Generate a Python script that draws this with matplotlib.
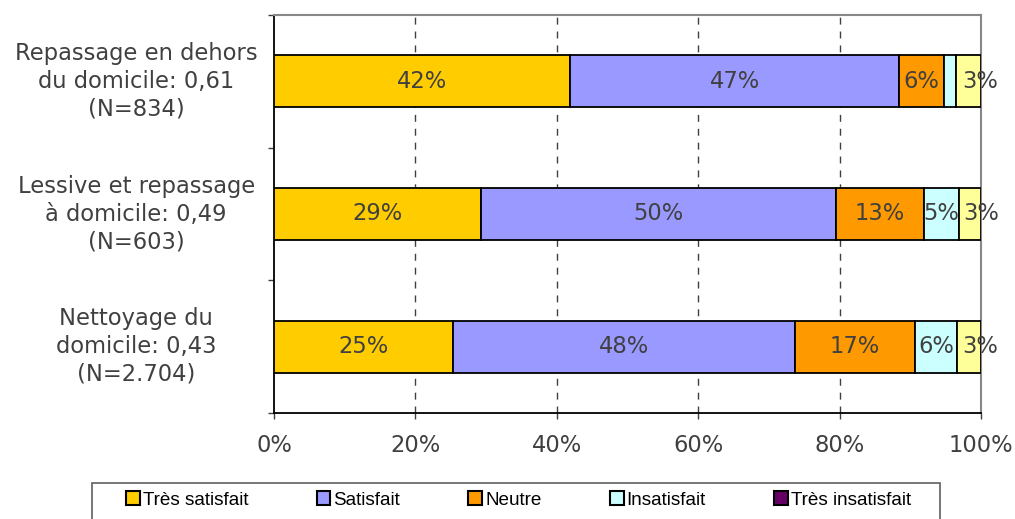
import matplotlib.pyplot as plt
import numpy as np
from matplotlib.patches import Patch, Rectangle

categories = ['Repassage en dehors\ndu domicile: 0,61\n(N=834)',
              'Lessive et repassage\nà domicile: 0,49\n(N=603)',
              'Nettoyage du\ndomicile: 0,43\n(N=2.704)']
series = ['Très satisfait', 'Satisfait', 'Neutre', 'Insatisfait', 'Très insatisfait']
# share of answers (%), one list per series, in category order
tres_satisfait = [41.9, 29.3, 25.3]
satisfait = [46.5, 50.2, 48.4]
neutre = [6.4, 12.4, 17.0]
insatisfait = [1.7, 5.0, 5.9]
tres_insatisfait = [3.5, 3.1, 3.4]
labels = [['42%', '29%', '25%'],
          ['47%', '50%', '48%'],
          ['6%', '13%', '17%'],
          ['', '5%', '6%'],
          ['3%', '3%', '3%']]

values = [tres_satisfait, satisfait, neutre, insatisfait, tres_insatisfait]
bar_colors = ['#FFCC00', '#9999FF', '#FF9900', '#CCFFFF', '#FFFF99']
legend_colors = ['#FFCC00', '#9999FF', '#FF9900', '#CCFFFF', '#660066']
txt = '#404040'
fs = 16.3

plt.rcParams['font.family'] = 'DejaVu Sans'
fig = plt.figure(figsize=(10.15, 5.19), dpi=100)
ax = fig.add_axes([274/1015, 1-413/519, 707/1015, 398/519])

y = np.array([2, 1, 0])
left = np.zeros(3)
for i, (vals, col, labs) in enumerate(zip(values, bar_colors, labels)):
    vals = np.array(vals)
    ax.barh(y, vals, left=left, height=0.39, color=col, edgecolor='black', linewidth=1.3, zorder=3)
    shift = 1.6 if i == len(values) - 1 else 0  # last labels sit a bit to the right
    for yi, l, v, lab in zip(y, left, vals, labs):
        if lab:
            ax.text(l + v/2 + shift, yi, lab, ha='center', va='center', fontsize=fs,
                    color=txt, zorder=4, clip_on=False)
    left += vals

ax.set_xlim(0, 100)
ax.set_ylim(-0.5, 2.5)
ax.set_xticks(np.arange(0, 101, 20))
ax.set_xticklabels([f'{v}%' for v in range(0, 101, 20)], fontsize=fs, color=txt)
ax.set_yticks([-0.5, 0.5, 1.5, 2.5])
ax.set_yticklabels([])
for yi, c in zip(y, categories):
    ax.text(-19.5, yi, c, ha='center', va='center', fontsize=fs, color=txt,
            linespacing=1.26, clip_on=False)
ax.tick_params(axis='both', direction='out', length=4, width=1, colors='#404040', labelcolor=txt)
ax.tick_params(axis='x', pad=11)
for v in [20, 40, 60, 80]:
    ax.axvline(v, color='#404040', linestyle=(0, (5, 5)), linewidth=1, zorder=1)
ax.spines['left'].set_color('black')
ax.spines['bottom'].set_color('black')
ax.spines['left'].set_linewidth(1.3)
ax.spines['bottom'].set_linewidth(1.3)
ax.spines['top'].set_color('#888888')
ax.spines['right'].set_color('#888888')
ax.spines['top'].set_linewidth(1.5)
ax.spines['right'].set_linewidth(1.5)

fig.patches.append(Rectangle((92/1015, -0.05), (940-92)/1015, 0.05 + (519-483)/519,
                             transform=fig.transFigure, facecolor='white', edgecolor='#606060',
                             linewidth=1.2))
handles = [Patch(facecolor=c, edgecolor='black', linewidth=1.5) for c in legend_colors]
fig.legend(handles, series, loc='center left', bbox_to_anchor=(126/1015, 1-500/519), ncol=5,
           frameon=False, borderpad=0, borderaxespad=0,
           handlelength=0.74, handleheight=0.74, handletextpad=0.16,
           columnspacing=3.6, prop={'family': 'Liberation Sans', 'size': 13.6})

fig.savefig('out.png', dpi=100)
